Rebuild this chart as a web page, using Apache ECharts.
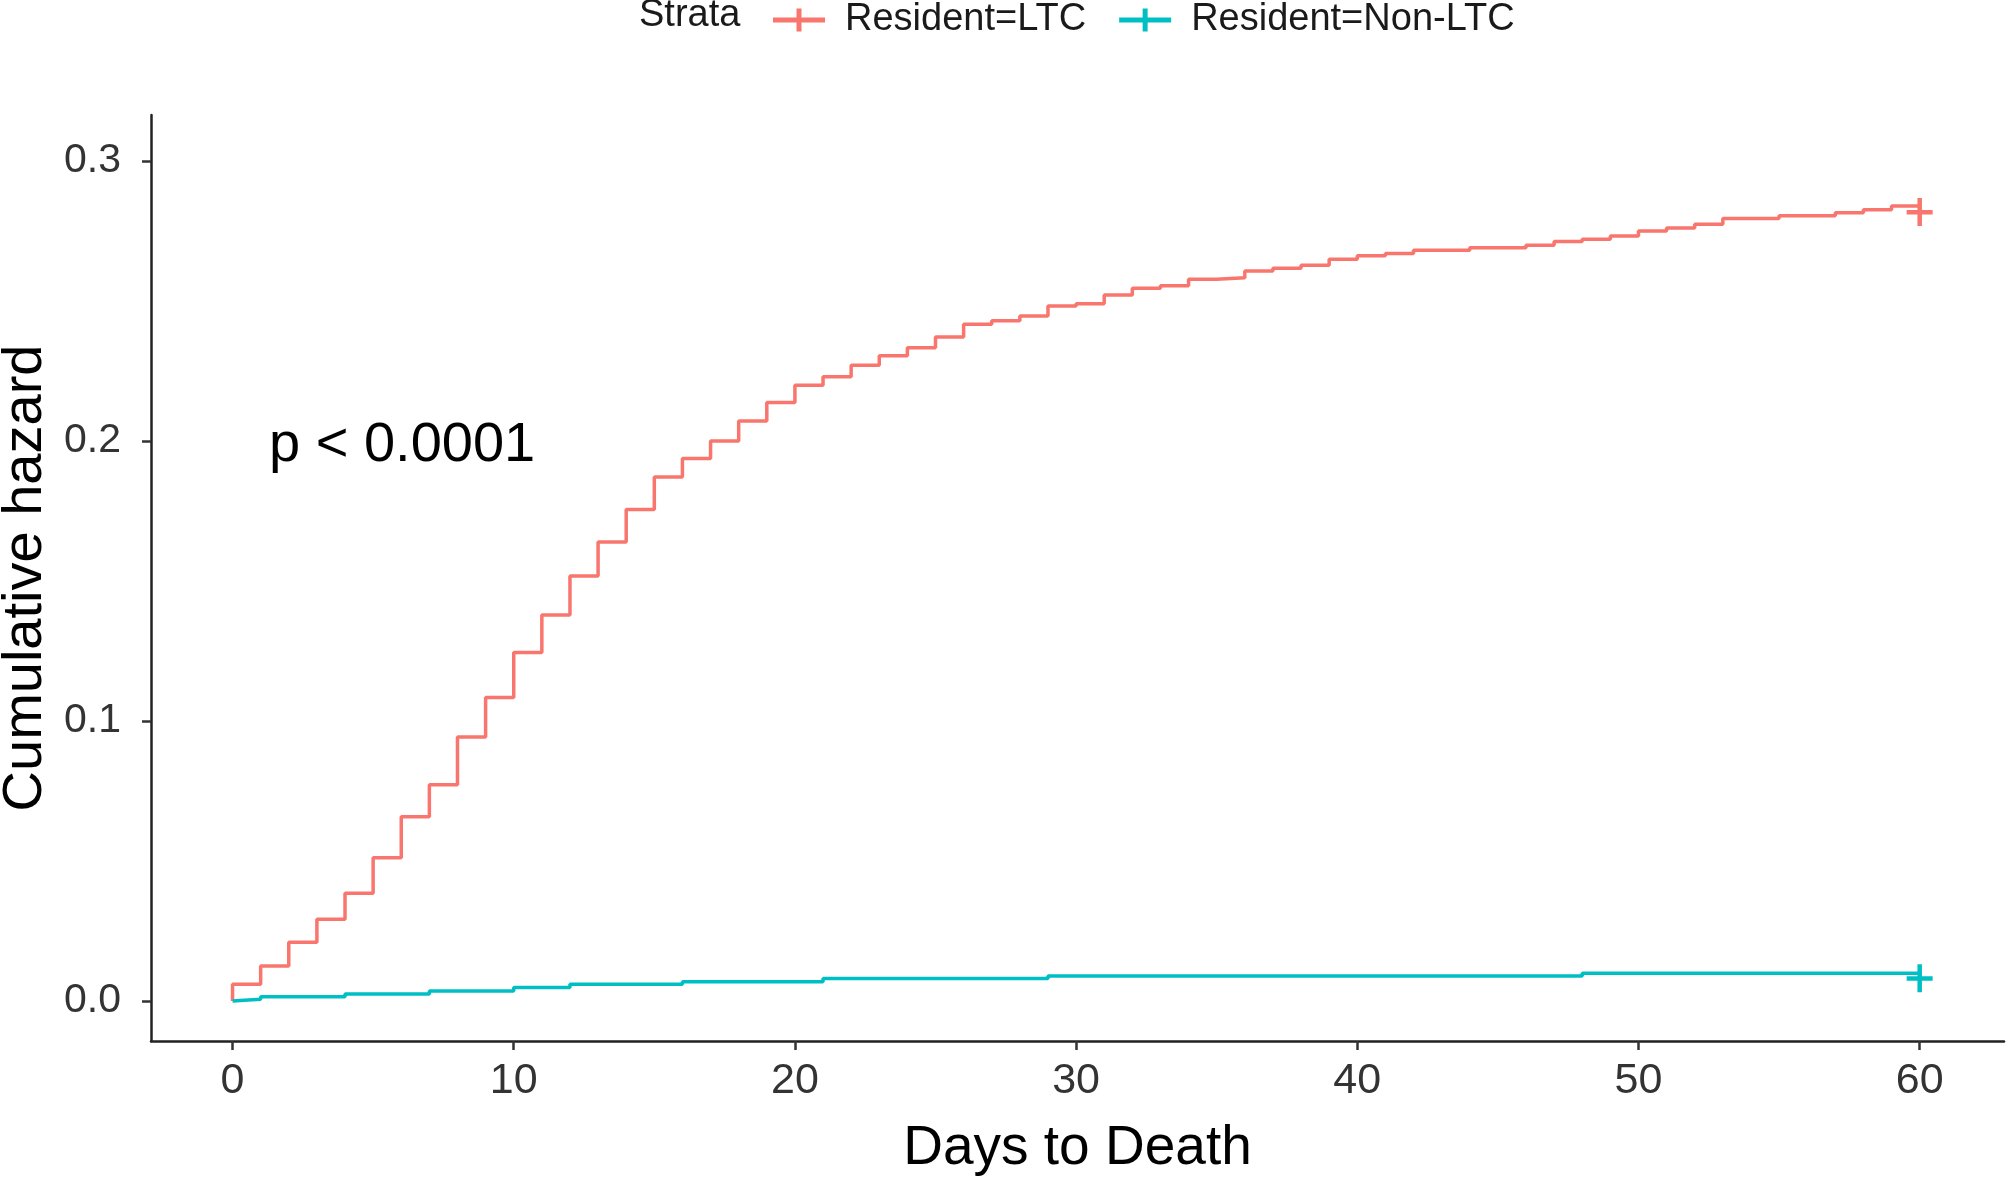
<!DOCTYPE html>
<html>
<head>
<meta charset="utf-8">
<title>Cumulative hazard</title>
<script src="https://cdn.jsdelivr.net/npm/echarts@6/dist/echarts.min.js"></script>
<style>
    html, body { margin: 0; padding: 0; background: #fff; }
    #chart { width: 2008px; height: 1182px; }
</style>
</head>
<body>
<div id="chart"></div>
<script>
// 时间点（第一个 0 是起点）
const days = [0, 0, 1, 2, 3, 4, 5, 6, 7, 8, 9, 10, 11, 12, 13, 14, 15, 16, 17, 18, 19, 20,
    21, 22, 23, 24, 25, 26, 27, 28, 29, 30, 31, 32, 33, 34, 35, 36, 37, 38, 39, 40,
    41, 42, 43, 44, 45, 46, 47, 48, 49, 50, 51, 52, 53, 54, 55, 56, 57, 58, 59, 60];

// Resident=LTC 累积风险
const ltcHazard = [0, 0.0060, 0.0125, 0.0210, 0.0292, 0.0385, 0.0511, 0.0658, 0.0772, 0.0943, 0.1084,
    0.1244, 0.1378, 0.1518, 0.1639, 0.1755, 0.1871, 0.1937, 0.2000, 0.2071, 0.2137,
    0.2199, 0.2229, 0.2270, 0.2304, 0.2333, 0.2371, 0.2417, 0.2429, 0.2446, 0.2482,
    0.2490, 0.2521, 0.2545, 0.2554, 0.2577, 0.2583, 0.2607, 0.2617, 0.2627, 0.2649,
    0.2661, 0.2669, 0.2681, 0.2681, 0.2690, 0.2690, 0.2699, 0.2712, 0.2720, 0.2732,
    0.2750, 0.2760, 0.2774, 0.2794, 0.2794, 0.2804, 0.2804, 0.2815, 0.2826, 0.2839, 0.2839];

// Resident=Non-LTC 累积风险
const nonLtcHazard = [0, 0.0006, 0.0015, 0.0015, 0.0015, 0.0025, 0.0025, 0.0025, 0.0036, 0.0036, 0.0036,
    0.0048, 0.0048, 0.0060, 0.0060, 0.0060, 0.0060, 0.0069, 0.0069, 0.0069, 0.0069,
    0.0069, 0.0080, 0.0080, 0.0080, 0.0080, 0.0080, 0.0080, 0.0080, 0.0080, 0.0089,
    0.0089, 0.0089, 0.0089, 0.0089, 0.0089, 0.0089, 0.0089, 0.0089, 0.0089, 0.0089,
    0.0089, 0.0089, 0.0089, 0.0089, 0.0089, 0.0089, 0.0089, 0.0089, 0.0099, 0.0099,
    0.0099, 0.0099, 0.0099, 0.0099, 0.0099, 0.0099, 0.0099, 0.0099, 0.0099, 0.0099, 0.0099];

// 删失标记
const censorDay = [60];
const censorLtc = [0.2818];
const censorNonLtc = [0.0081];

// 刻度
const xTicks = [0, 10, 20, 30, 40, 50, 60];
const yTicks = [0, 0.1, 0.2, 0.3];

const seriesNames = ['Resident=LTC', 'Resident=Non-LTC'];
const colors = ['#F8766D', '#00BFC4'];
const fontFamily = '"Liberation Sans", Arial, sans-serif';

// 十字形符号
const plusIcon = 'path://M0,9h52v5h-52z M23.5,0h5v23h-5z';
const censorIcon = 'path://M0,12h26v4.5h-26z M10.8,0h4.5v28h-4.5z';

const toPairs = (xs, ys) => xs.map((x, i) => [x, ys[i]]);

const chart = echarts.init(document.getElementById('chart'));

const option = {
    animation: false,
    backgroundColor: '#fff',
    textStyle: { fontFamily: fontFamily },
    grid: {
        left: 151,
        right: 4,
        top: 115,
        bottom: 141,
        containLabel: false,
        outerBoundsMode: 'none'
    },
    legend: {
        left: 768,
        top: -4,
        itemWidth: 52,
        itemHeight: 23,
        itemGap: 33,
        textStyle: {
            fontSize: 38,
            color: '#1a1a1a',
            fontFamily: fontFamily,
            padding: [0, 0, 0, 15]
        },
        data: [
            { name: seriesNames[0], icon: plusIcon, itemStyle: { color: colors[0] } },
            { name: seriesNames[1], icon: plusIcon, itemStyle: { color: colors[1] } }
        ]
    },
    xAxis: {
        type: 'value',
        min: -2.9,
        max: 63,
        name: 'Days to Death',
        nameLocation: 'middle',
        nameGap: 80,
        nameTextStyle: { fontSize: 55, color: '#000', fontFamily: fontFamily },
        axisLine: { onZero: false, lineStyle: { color: '#222', width: 2.5 } },
        axisTick: { length: 9, lineStyle: { color: '#333', width: 2.5 }, customValues: xTicks },
        axisLabel: {
            fontSize: 43,
            color: '#333',
            margin: 19,
            customValues: xTicks,
            formatter: v => String(v)
        },
        splitLine: { show: false }
    },
    yAxis: {
        type: 'value',
        min: -0.0143,
        max: 0.3164,
        name: 'Cumulative hazard',
        nameLocation: 'middle',
        nameGap: 90,
        nameTextStyle: { fontSize: 56, color: '#000', fontFamily: fontFamily },
        axisLine: { show: true, onZero: false, lineStyle: { color: '#222', width: 2.5 } },
        axisTick: { show: true, length: 9, lineStyle: { color: '#333', width: 2.5 }, customValues: yTicks },
        axisLabel: {
            fontSize: 41,
            color: '#333',
            margin: 30,
            customValues: yTicks,
            formatter: v => v.toFixed(1)
        },
        splitLine: { show: false }
    },
    series: [
        {
            name: seriesNames[0],
            type: 'line',
            step: 'end',
            showSymbol: false,
            data: toPairs(days, ltcHazard),
            lineStyle: { color: colors[0], width: 3.5 },
            itemStyle: { color: colors[0] }
        },
        {
            name: seriesNames[1],
            type: 'line',
            step: 'end',
            showSymbol: false,
            data: toPairs(days, nonLtcHazard),
            lineStyle: { color: colors[1], width: 3.5 },
            itemStyle: { color: colors[1] }
        },
        {
            name: seriesNames[0],
            type: 'scatter',
            symbol: censorIcon,
            symbolSize: [26, 28],
            data: toPairs(censorDay, censorLtc),
            itemStyle: { color: colors[0], opacity: 1 }
        },
        {
            name: seriesNames[1],
            type: 'scatter',
            symbol: censorIcon,
            symbolSize: [26, 28],
            data: toPairs(censorDay, censorNonLtc),
            itemStyle: { color: colors[1], opacity: 1 }
        }
    ],
    graphic: [
        {
            type: 'text',
            left: 639,
            top: -3,
            style: {
                text: 'Strata',
                fontSize: 38,
                fontFamily: fontFamily,
                fill: '#1a1a1a'
            }
        },
        {
            type: 'text',
            left: 269,
            top: 418,
            style: {
                text: 'p < 0.0001',
                fontSize: 56,
                fontFamily: fontFamily,
                fill: '#000'
            }
        }
    ]
};

chart.setOption(option);

window.addEventListener('resize', () => {
    chart && chart.resize();
});
</script>
</body>
</html>
